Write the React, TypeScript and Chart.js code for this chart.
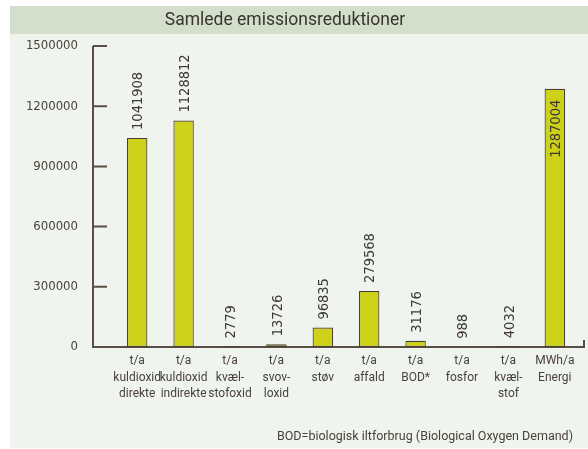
import React, { useEffect, useRef } from "react";
import { Chart, registerables } from "chart.js";

Chart.register(...registerables);

const categories: string[][] = [
  ["t/a", "kuldioxid", "direkte"],
  ["t/a", "kuldioxid", "indirekte"],
  ["t/a", "kvæl-", "stofoxid"],
  ["t/a", "svov-", "loxid"],
  ["t/a", "støv"],
  ["t/a", "affald"],
  ["t/a", "BOD*"],
  ["t/a", "fosfor"],
  ["t/a", "kvæl-", "stof"],
  ["MWh/a", "Energi"],
];
const values = [1041908, 1128812, 2779, 13726, 96835, 279568, 31176, 988, 4032, 1287004];
const yTicks = [0, 300000, 600000, 900000, 1200000, 1500000];
const titleText = "Samlede emissionsreduktioner";
const footnoteText = "BOD=biologisk iltforbrug (Biological Oxygen Demand)";

const BAR_FILL = "#cdd117";
const DARK = "#4a3f36";
const TEXT = "#4a423a";
const CONDENSED = "'DejaVu Sans Condensed', 'Liberation Sans Narrow', sans-serif";

const decorPlugin = {
  id: "decor",
  beforeDraw(chart: any) {
    const { ctx, width, height } = chart;
    ctx.save();
    ctx.fillStyle = "#ffffff";
    ctx.fillRect(0, 0, width, height);
    ctx.fillStyle = "#eff4ee";
    ctx.fillRect(10, 34, width - 10, height - 35);
    ctx.fillStyle = "#d3dfcb";
    ctx.fillRect(10, 6, width - 10, 28);
    ctx.fillStyle = "#3a3430";
    ctx.font = "17.5px Roboto";
    ctx.textAlign = "center";
    ctx.textBaseline = "middle";
    ctx.fillText(titleText, 285, 20.5);
    ctx.fillStyle = TEXT;
    ctx.font = "12.5px Roboto";
    ctx.textAlign = "right";
    ctx.fillText(footnoteText, 573, 437);
    ctx.restore();
  },
  beforeDatasetsDraw(chart: any) {
    const { ctx, chartArea } = chart;
    const y = chart.scales.y;
    const axisX = chartArea.left - 21;
    const y0 = y.getPixelForValue(0);
    const yTop = y.getPixelForValue(yTicks[yTicks.length - 1]);
    ctx.save();
    ctx.strokeStyle = "#5a4d43";
    ctx.lineWidth = 2;
    ctx.beginPath();
    ctx.moveTo(axisX, yTop);
    ctx.lineTo(axisX, y0);
    ctx.lineTo(584, y0);
    ctx.lineTo(584, y0 - 7);
    yTicks.forEach((v) => {
      const py = y.getPixelForValue(v);
      ctx.moveTo(axisX, py);
      ctx.lineTo(axisX + 14, py);
    });
    ctx.stroke();
    ctx.restore();
  },
  afterDatasetsDraw(chart: any) {
    const { ctx, chartArea } = chart;
    const meta = chart.getDatasetMeta(0);
    ctx.save();
    ctx.fillStyle = "#3f3832";
    ctx.font = "14.5px " + CONDENSED;
    ctx.textBaseline = "middle";
    meta.data.forEach((bar: any, i: number) => {
      const label = String(values[i]);
      const w = ctx.measureText(label).width;
      ctx.save();
      if (bar.y - 8 - w < chartArea.top - 10) {
        ctx.translate(bar.x + 1, bar.y + 11);
        ctx.rotate(-Math.PI / 2);
        ctx.textAlign = "right";
      } else {
        ctx.translate(bar.x + 1.5, bar.y - 8);
        ctx.rotate(-Math.PI / 2);
        ctx.textAlign = "left";
      }
      ctx.fillText(label, 0, 0);
      ctx.restore();
    });
    ctx.restore();
  },
};

export default function App() {
  const canvasRef = useRef<HTMLCanvasElement | null>(null);

  useEffect(() => {
    if (!canvasRef.current) return;
    const chart = new Chart(canvasRef.current, {
      type: "bar",
      data: {
        labels: categories,
        datasets: [
          {
            data: values,
            backgroundColor: BAR_FILL,
            borderColor: DARK,
            borderWidth: 1.2,
            borderSkipped: false,
            barPercentage: 0.44,
            categoryPercentage: 1,
          },
        ],
      },
      options: {
        responsive: false,
        animation: false,
        layout: { padding: { top: 46, right: 10, left: 0, bottom: 0 } },
        plugins: {
          legend: { display: false },
          title: { display: false },
          tooltip: { enabled: false },
        },
        scales: {
          x: {
            offset: true,
            grid: { display: false, drawTicks: false },
            border: { display: false },
            ticks: {
              color: TEXT,
              font: { family: "Roboto", size: 12, lineHeight: 1.38 },
              padding: 6,
              maxRotation: 0,
              autoSkip: false,
            },
            afterFit: (scale: any) => {
              scale.height = 102;
            },
          },
          y: {
            min: 0,
            max: 1500000,
            grid: { display: false, drawTicks: false },
            border: { display: false },
            afterBuildTicks: (scale: any) => {
              scale.ticks = yTicks.map((v) => ({ value: v }));
            },
            ticks: {
              color: TEXT,
              font: { family: CONDENSED, size: 13 },
              padding: 36,
              callback: (v: any) => String(v),
            },
            afterFit: (scale: any) => {
              scale.width = 114;
            },
          },
        },
      },
      plugins: [decorPlugin],
    });
    return () => chart.destroy();
  }, []);

  return (
    <div style={{ position: "absolute", left: 0, top: 0, width: 588, height: 449 }}>
      <canvas ref={canvasRef} width={588} height={449} />
    </div>
  );
}
